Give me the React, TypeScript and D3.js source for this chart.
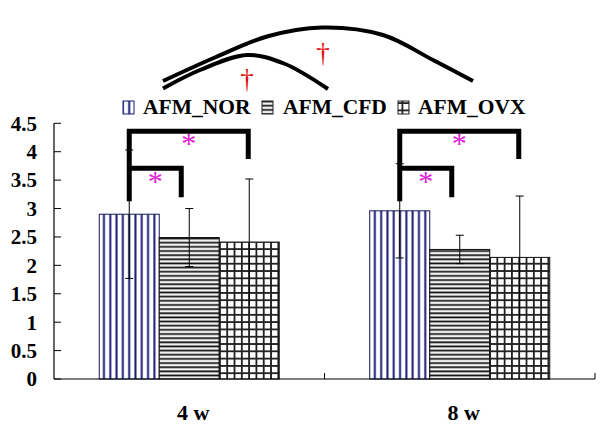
import React from "react";
import * as d3 from "d3";

const categories = ["4 w", "8 w"];
const seriesNames = ["AFM_NOR", "AFM_CFD", "AFM_OVX"];
const meanNOR = [2.9, 2.96];
const meanCFD = [2.49, 2.28];
const meanOVX = [2.41, 2.14];
const sdNOR = [1.13, 0.83];
const sdCFD = [0.51, 0.25];
const sdOVX = [1.11, 1.08];
const yTicks = [0, 0.5, 1, 1.5, 2, 2.5, 3, 3.5, 4, 4.5];

// significance brackets (per category): level values and leg bottoms
const bracketLevels = [4.36, 3.71];
const bracketLegEnds = [3.87, 3.2];

const W = 612;
const H = 443;
const FONT = "'Liberation Serif', 'Times New Roman', serif";

export default function App() {
  const x0 = d3.scaleBand<string>().domain(categories).range([54, 595]).padding(0);
  const x1 = d3
    .scaleBand<string>()
    .domain(seriesNames)
    .range([0, x0.bandwidth()])
    .paddingInner(0)
    .paddingOuter(0.754);
  const y = d3.scaleLinear().domain([0, 4.5]).range([379, 123.3]);

  const means = [meanNOR, meanCFD, meanOVX];
  const sds = [sdNOR, sdCFD, sdOVX];
  const fills = ["url(#pNOR)", "url(#pCFD)", "url(#pOVX)"];

  const bars: any[] = [];
  categories.forEach((c, ci) => {
    seriesNames.forEach((s, si) => {
      bars.push({ c, s, ci, si, v: means[si][ci], sd: sds[si][ci] });
    });
  });

  const line = d3
    .line<[number, number]>()
    .x((d) => d[0])
    .y((d) => d[1])
    .curve(d3.curveCatmullRom);

  const bigArc: [number, number][] = [
    [163, 81],
    [216, 57],
    [267, 36.5],
    [322, 27.5],
    [383, 35],
    [433, 60],
    [473, 81],
  ];
  const smallArc: [number, number][] = [
    [163, 88.5],
    [200, 70],
    [247, 55],
    [284, 63.5],
    [328, 89],
  ];

  const cx = (ci: number, si: number) =>
    (x0(categories[ci]) as number) + (x1(seriesNames[si]) as number) + x1.bandwidth() / 2;

  return (
    <svg width={W} height={H} style={{ position: "absolute", left: 0, top: 0, background: "#fff" }}>
      <defs>
        <pattern id="pNOR" patternUnits="userSpaceOnUse" width={6.3} height={10}>
          <rect width={6.3} height={10} fill="#fff" />
          <line x1={3.15} y1={0} x2={3.15} y2={10} stroke="#1a1a7a" strokeWidth={2} />
        </pattern>
        <pattern id="pCFD" patternUnits="userSpaceOnUse" width={10} height={4.15}>
          <rect width={10} height={4.15} fill="#f2f2f2" />
          <line x1={0} y1={2} x2={10} y2={2} stroke="#111" strokeWidth={1.7} />
        </pattern>
        <pattern id="pOVX" patternUnits="userSpaceOnUse" width={7.3} height={7.3}>
          <rect width={7.3} height={7.3} fill="#fff" />
          <line x1={0.9} y1={0} x2={0.9} y2={7.3} stroke="#222" strokeWidth={1.9} />
          <line x1={0} y1={0.9} x2={7.3} y2={0.9} stroke="#222" strokeWidth={1.9} />
        </pattern>
      </defs>

      {/* bars */}
      {bars.map((b, i) => {
        const x = (x0(b.c) as number) + (x1(b.s) as number);
        return (
          <rect
            key={"b" + i}
            x={x}
            y={y(b.v)}
            width={x1.bandwidth()}
            height={y(0) - y(b.v)}
            fill={fills[b.si]}
            stroke={b.si === 0 ? "#1a1a5a" : "#111"}
            strokeWidth={1}
          />
        );
      })}

      {/* error bars */}
      {bars.map((b, i) => {
        const c = cx(b.ci, b.si);
        const t = y(b.v + b.sd);
        const bt = y(b.v - b.sd);
        return (
          <g key={"e" + i} stroke="#000" strokeWidth={1}>
            <line x1={c} x2={c} y1={t} y2={bt} />
            <line x1={c - 4} x2={c + 4} y1={t} y2={t} />
            {b.si !== 2 && <line x1={c - 4} x2={c + 4} y1={bt} y2={bt} />}
          </g>
        );
      })}

      {/* axes */}
      <line x1={54} x2={54} y1={y(4.5)} y2={y(0)} stroke="#000" strokeWidth={1.2} />
      <line x1={54} x2={595} y1={y(0)} y2={y(0)} stroke="#000" strokeWidth={1.2} />
      {yTicks.map((t) => (
        <g key={"t" + t}>
          <line x1={54} x2={61} y1={y(t)} y2={y(t)} stroke="#000" strokeWidth={1} />
          <text
            x={37}
            y={y(t)}
            dy="0.35em"
            textAnchor="end"
            fontFamily={FONT}
            fontWeight="bold"
            fontSize={21}
            fill="#000"
          >
            {t}
          </text>
        </g>
      ))}
      {[...categories.map((c) => x0(c) as number), 595].slice(1).map((xv, i) => (
        <line key={"xt" + i} x1={xv} x2={xv} y1={y(0)} y2={y(0) - 6} stroke="#000" strokeWidth={1} />
      ))}
      {categories.map((c) => (
        <text
          key={"xl" + c}
          x={(x0(c) as number) + x0.bandwidth() / 2 + 4}
          y={420}
          textAnchor="middle"
          fontFamily={FONT}
          fontWeight="bold"
          fontSize={22}
          fill="#000"
        >
          {c}
        </text>
      ))}

      {/* significance brackets */}
      {categories.map((c, ci) => {
        const l = cx(ci, 0);
        const rBig = cx(ci, 2) - 1;
        const rSmall = cx(ci, 1) - 8;
        const yb = y(bracketLevels[0]);
        const ys = y(bracketLevels[1]);
        return (
          <g key={"br" + ci} stroke="#000" strokeWidth={5} fill="none">
            <path d={`M${l},${y(3.13)} L${l},${yb} L${rBig},${yb} L${rBig},${y(bracketLegEnds[0])}`} />
            <path d={`M${l},${ys} L${rSmall},${ys} L${rSmall},${y(bracketLegEnds[1])}`} />
            <text
              x={(l + rBig) / 2}
              y={yb + 22}
              textAnchor="middle"
              fontFamily={FONT}
              fontSize={30}
              fill="#e020d8"
              stroke="none"
            >
              *
            </text>
            <text
              x={(l + rSmall) / 2}
              y={ys + 23}
              textAnchor="middle"
              fontFamily={FONT}
              fontSize={30}
              fill="#e020d8"
              stroke="none"
            >
              *
            </text>
          </g>
        );
      })}

      {/* arcs */}
      <path d={line(bigArc) as string} fill="none" stroke="#000" strokeWidth={4} />
      <path d={line(smallArc) as string} fill="none" stroke="#000" strokeWidth={4} />
      <text x={323} y={62} textAnchor="middle" fontFamily={FONT} fontSize={27} fill="#e01010">
        †
      </text>
      <text x={247} y={88} textAnchor="middle" fontFamily={FONT} fontSize={27} fill="#e01010">
        †
      </text>

      {/* legend */}
      {seriesNames.map((s, i) => {
        const ix = [123, 262, 398][i];
        const tx = [143, 283, 418][i];
        return (
          <g key={"lg" + s}>
            <rect x={ix} y={101} width={11} height={13} fill={fills[i]} stroke={i === 0 ? "#1a1a7a" : "#222"} strokeWidth={1} />
            <text x={tx} y={114} fontFamily={FONT} fontWeight="bold" fontSize={21.5} fill="#000">
              {s}
            </text>
          </g>
        );
      })}
    </svg>
  );
}
